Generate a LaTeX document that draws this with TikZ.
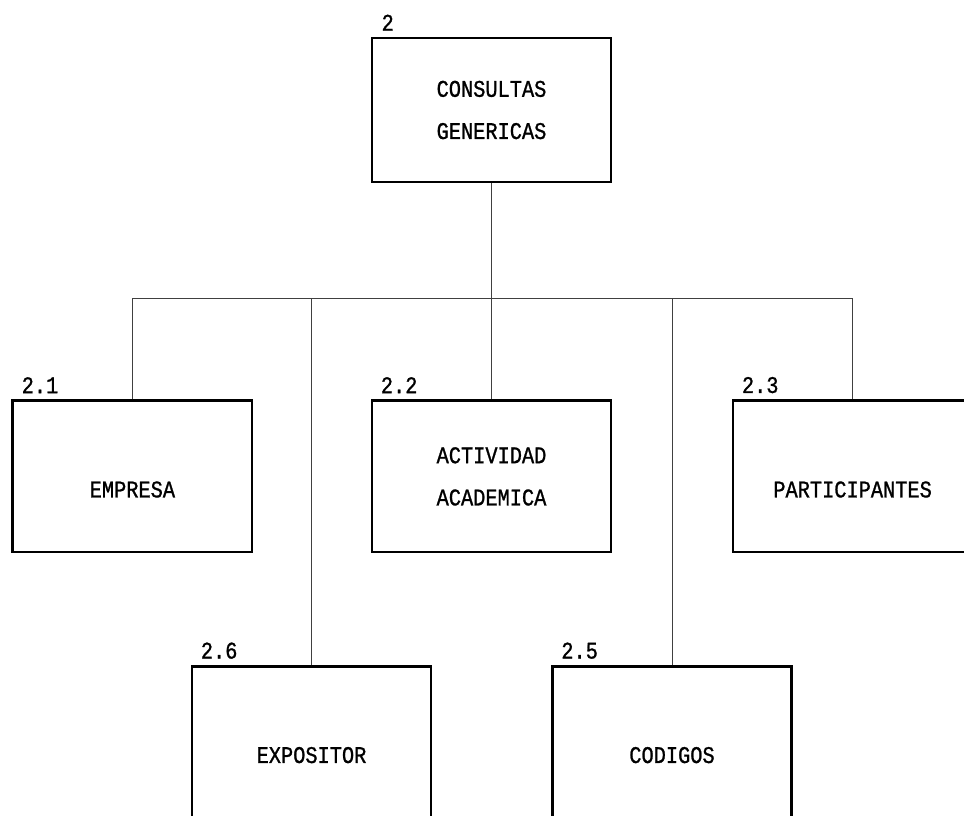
\documentclass[tikz,border=0pt]{standalone}
\usepackage{fontspec}
\newfontfamily\dotfont[FakeStretch=0.85, FakeBold=1]{Liberation Mono}
\usetikzlibrary{positioning}

\tikzset{
	menubox/.style={draw, line width=2pt, rectangle, align=center,
		minimum width=5.975cm, minimum height=3.775cm,
		font=\dotfont\fontsize{17}{30}\selectfont},
	topbox/.style={menubox, minimum height=3.6cm},
	numtag/.style={inner sep=0pt, font=\dotfont\fontsize{17}{20}\selectfont},
	link/.style={line width=0.6pt, draw=black!75}
}

\begin{document}
\begin{tikzpicture}[x=0.025cm, y=-0.025cm]
	\useasboundingbox (0,0) rectangle (964,815);
	
	% Level 1
	\node [topbox] at (491.5,110) (b2) {CONSULTAS\\GENERICAS};
	\node [numtag, anchor=south west] at ([xshift=0.27cm, yshift=0.14cm]b2.north west) (n2) {2};
	
	% Level 2
	\node [menubox, below=5.4cm of b2] (b22) {ACTIVIDAD\\ACADEMICA};
	\node [menubox, left=2.93cm of b22] (b21) {\mbox{}\\EMPRESA};
	\node [menubox, right=2.98cm of b22] (b23) {\mbox{}\\PARTICIPANTES};
	\node [numtag, anchor=south west] at ([xshift=0.25cm, yshift=0.15cm]b21.north west) (n21) {2.1};
	\node [numtag, anchor=south west] at ([xshift=0.25cm, yshift=0.15cm]b22.north west) (n22) {2.2};
	\node [numtag, anchor=south west] at ([xshift=0.25cm, yshift=0.15cm]b23.north west) (n23) {2.3};
	
	% Level 3
	\node [menubox] at (311.5,742) (b26) {\mbox{}\\EXPOSITOR};
	\node [menubox] at (672,742) (b25) {\mbox{}\\CODIGOS};
	\node [numtag, anchor=south west] at ([xshift=0.25cm, yshift=0.15cm]b26.north west) (n26) {2.6};
	\node [numtag, anchor=south west] at ([xshift=0.25cm, yshift=0.15cm]b25.north west) (n25) {2.5};
	
	% Connections
	\coordinate (bus) at (491.5,298);
	\draw [link] (b2.south) -- (b22.north);
	\draw [link] (b21.north) -- (b21.north |- bus) -- (b23.north |- bus) -- (b23.north);
	\draw [link] (b26.north) -- (b26.north |- bus);
	\draw [link] (b25.north) -- (b25.north |- bus);
\end{tikzpicture}
\end{document}
